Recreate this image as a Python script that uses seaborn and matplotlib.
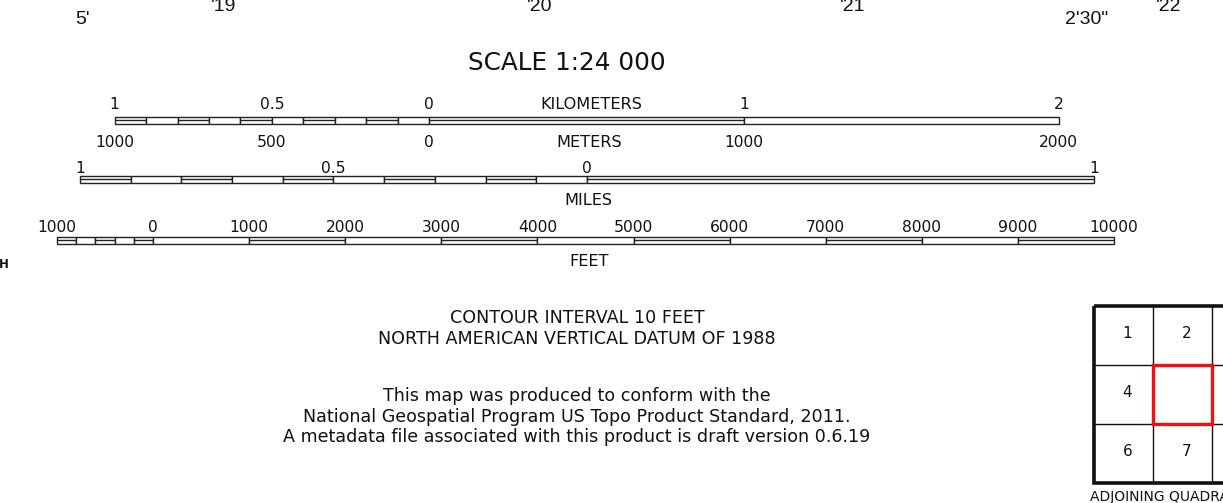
import matplotlib
matplotlib.use("Agg")
import matplotlib.pyplot as plt
import seaborn as sns

# ---- data -------------------------------------------------------------
# kilometer bar (units: km)
km_seg_start = [-1.0, -0.9, -0.8, -0.7, -0.6, -0.5, -0.4, -0.3, -0.2, -0.1, 0.0, 1.0]
km_seg_width = [0.1, 0.1, 0.1, 0.1, 0.1, 0.1, 0.1, 0.1, 0.1, 0.1, 1.0, 1.0]
km_seg_double = [1, 0, 1, 0, 1, 0, 1, 0, 1, 0, 1, 0]
km_ticks = [-1, -0.5, 0, 1, 2]
km_labels = ["1", "0.5", "0", "1", "2"]
m_labels = ["1000", "500", "0", "1000", "2000"]

# mile bar (units: miles)
mi_seg_start = [-1.0, -0.9, -0.8, -0.7, -0.6, -0.5, -0.4, -0.3, -0.2, -0.1, 0.0]
mi_seg_width = [0.1, 0.1, 0.1, 0.1, 0.1, 0.1, 0.1, 0.1, 0.1, 0.1, 1.0]
mi_seg_double = [1, 0, 1, 0, 1, 0, 1, 0, 1, 0, 1]
mi_ticks = [-1, -0.5, 0, 1]
mi_labels = ["1", "0.5", "0", "1"]

# feet bar (units: feet)
ft_seg_start = [-1000, -800, -600, -400, -200, 0, 1000, 2000, 3000, 4000,
                5000, 6000, 7000, 8000, 9000]
ft_seg_width = [200, 200, 200, 200, 200, 1000, 1000, 1000, 1000, 1000,
                1000, 1000, 1000, 1000, 1000]
ft_seg_double = [1, 0, 1, 0, 1, 0, 1, 0, 1, 0, 1, 0, 1, 0, 1]
ft_ticks = [-1000, 0, 1000, 2000, 3000, 4000, 5000, 6000, 7000, 8000, 9000, 10000]
ft_labels = ["1000", "0", "1000", "2000", "3000", "4000", "5000", "6000",
             "7000", "8000", "9000", "10000"]

# graticule labels along the top
top_labels = ["5'", "'19", "'20", "'21", "2'30\"", "'22"]

# adjoining quadrangle index (visible cells: rows x first two columns)
quad_labels = [["1", "2"], ["4", ""], ["6", "7"]]

notes_1 = ["CONTOUR INTERVAL 10 FEET", "NORTH AMERICAN VERTICAL DATUM OF 1988"]
notes_2 = ["This map was produced to conform with the",
           "National Geospatial Program US Topo Product Standard, 2011.",
           "A metadata file associated with this product is draft version 0.6.19"]

# ---- figure -----------------------------------------------------------
sns.set_theme(style="white")
plt.rcParams["font.family"] = ["DejaVu Sans"]
INK = "#111111"
LINE = "#222222"
W, H = 1223, 503

fig = plt.figure(figsize=(W / 100, H / 100), dpi=100)
base = fig.add_axes([0, 0, 1, 1])
base.set_xlim(0, W)
base.set_ylim(H, 0)
base.axis("off")


def bar_axes(zero_px, px_per_unit):
    ax = fig.add_axes([0, 0, 1, 1], facecolor="none")
    ax.set_xlim(-zero_px / px_per_unit, (W - zero_px) / px_per_unit)
    ax.set_ylim(H, 0)
    ax.axis("off")
    return ax


def draw_bar(ax, starts, widths, doubles, yc, h=7):
    ax.barh(yc, widths, left=starts, height=h, color="white",
            edgecolor=LINE, linewidth=1.0)
    for s, w, d in zip(starts, widths, doubles):
        if d:
            ax.hlines(yc, s, s + w, color=LINE, linewidth=1.0)


def draw_labels(ax, ticks, labels, y, size=11.2):
    for t, lab in zip(ticks, labels):
        ax.text(t, y, lab, ha="center", va="baseline", fontsize=size, color=INK)


# title
base.text(567, 70, "SCALE 1:24 000", ha="center", va="baseline",
          fontsize=17.8, color=INK)

# kilometers / meters
ax_km = bar_axes(429.3, 314.7)
draw_bar(ax_km, km_seg_start, km_seg_width, km_seg_double, 120)
draw_labels(ax_km, km_ticks, km_labels, 109)
draw_labels(ax_km, km_ticks, m_labels, 147)
base.text(591, 109, "KILOMETERS", ha="center", va="baseline", fontsize=11.6, color=INK)
base.text(589, 147, "METERS", ha="center", va="baseline", fontsize=11.6, color=INK)

# miles
ax_mi = bar_axes(587, 507)
draw_bar(ax_mi, mi_seg_start, mi_seg_width, mi_seg_double, 179)
draw_labels(ax_mi, mi_ticks, mi_labels, 173)
base.text(588, 205, "MILES", ha="center", va="baseline", fontsize=11.6, color=INK)

# feet
ax_ft = bar_axes(153.1, 0.09609)
draw_bar(ax_ft, ft_seg_start, ft_seg_width, ft_seg_double, 240)
draw_labels(ax_ft, ft_ticks, ft_labels, 232)
base.text(589, 266, "FEET", ha="center", va="baseline", fontsize=11.6, color=INK)

# clipped north-arrow label on the left
base.text(4, 268, "H", ha="center", va="baseline", fontsize=8.5,
          fontweight="bold", color=INK)

# graticule labels (Arial-like)
top_x = [83, 224, 540, 853, 1087, 1169]
top_y = [24, 11, 11, 11, 24, 11]
for x, y, lab in zip(top_x, top_y, top_labels):
    base.text(x, y, lab, ha="center", va="baseline", fontsize=14,
              family="Liberation Sans", color=INK)

# notes
for i, line in enumerate(notes_1):
    base.text(577, 323 + 21 * i, line, ha="center", va="baseline",
              fontsize=12.6, color=INK)
for i, line in enumerate(notes_2):
    base.text(577, 401 + 20.5 * i, line, ha="center", va="baseline",
              fontsize=12.6, color=INK)

# adjoining quadrangle diagram
gx0, gy0, cell = 1094, 306, 59
for k in (1, 2):
    base.plot([gx0 + k * cell] * 2, [gy0, gy0 + 3 * cell], color=INK, lw=1.0)
    base.plot([gx0, gx0 + 3 * cell], [gy0 + k * cell] * 2, color=INK, lw=1.0)
base.add_patch(plt.Rectangle((gx0, gy0), 3 * cell, 3 * cell, fill=False,
                             edgecolor=INK, lw=2.6))
base.add_patch(plt.Rectangle((gx0 + cell, gy0 + cell), cell, cell, fill=False,
                             edgecolor="#ee1111", lw=2.4, zorder=5))
for r, row in enumerate(quad_labels):
    for c, lab in enumerate(row):
        base.text(gx0 + c * cell + cell / 2 + 4, gy0 + r * cell + cell / 2 - 2, lab,
                  ha="center", va="center", fontsize=11, color=INK)
base.text(1090, 501, "ADJOINING QUADRANGLES", ha="left", va="baseline",
          fontsize=10, color=INK)

fig.savefig("out.png", dpi=100, facecolor="white")
